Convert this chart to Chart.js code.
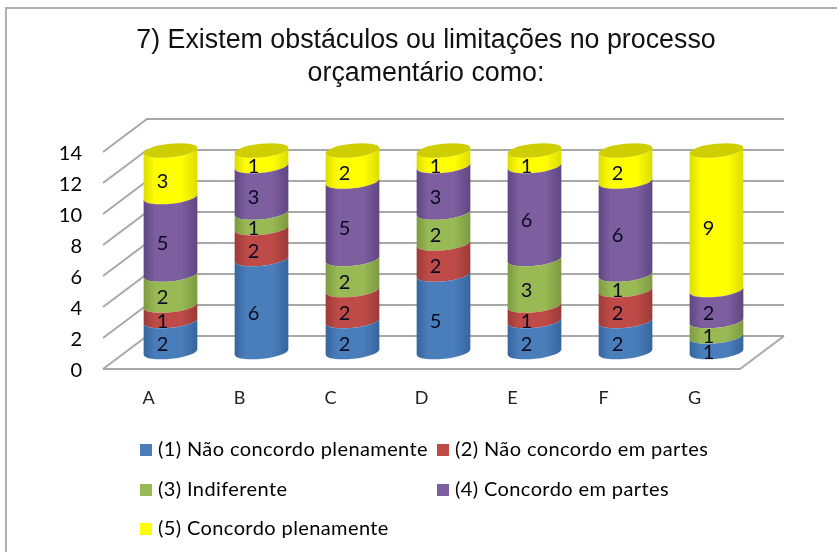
<!DOCTYPE html>
<html><head><meta charset="utf-8">
<style>html,body{margin:0;padding:0;background:#fff}#w{position:relative;width:837px;height:552px;overflow:hidden}
#f{position:absolute;left:5px;top:7px;width:900px;height:600px;border:2px solid #b0b0b0;box-sizing:border-box}
canvas{position:absolute;left:0;top:0}</style>
<script src="https://cdn.jsdelivr.net/npm/chart.js@4"></script>
</head><body><div id="w"><div id="f"></div><canvas id="c" width="837" height="552"></canvas></div>
<script>
const categories = ['A','B','C','D','E','F','G'];
const seriesNames = ['(1) Não concordo plenamente','(2) Não concordo em partes','(3) Indiferente','(4) Concordo em partes','(5) Concordo plenamente'];
const s1 = [2,6,2,5,2,2,1];
const s2 = [1,2,2,2,1,2,0];
const s3 = [2,1,2,2,3,1,1];
const s4 = [5,3,5,3,6,6,2];
const s5 = [3,1,2,1,1,2,9];
const seriesValues = [s1,s2,s3,s4,s5];
const colors = ['#4a7ebb','#be4b48','#98b954','#7d5fa0','#ffff00'];
const edgeColors = ['#36659e','#9c3a38','#7d9a40','#5f4681','#dcdc00'];
const titleLines = ['7) Existem obstáculos ou limitações no processo','orçamentário como:'];
const yTicks = {max:14, step:2};

const DX=44, DY=-33;            // wall depth
const BX=22, BY=-17;            // bars stand mid-depth
const RY=6.8, TILT=-6*Math.PI/180;
const LBL_FONT='20px Lato';

function ell(ctx,cx,cy,rx,ry,from,to,ccw){ctx.ellipse(cx,cy,rx,ry,TILT,from,to,ccw);}

const cyl3d = {
  id:'cyl3d',
  afterLayout(chart){ chart.titleBlock.left += 72; },
  beforeDatasetsDraw(chart){
    const {ctx,chartArea:a,scales:{y}}=chart;
    ctx.save();ctx.strokeStyle='#a8a8a8';ctx.lineWidth=2;ctx.lineCap='butt';
    for(let v=0;v<=yTicks.max;v+=yTicks.step){
      const p=y.getPixelForValue(v);
      ctx.beginPath();ctx.moveTo(a.left,p);ctx.lineTo(a.left+DX,p+DY);ctx.lineTo(a.right+DX,p+DY);ctx.stroke();
    }
    const p0=y.getPixelForValue(0);
    ctx.beginPath();ctx.moveTo(a.left,p0);ctx.lineTo(a.right,p0);ctx.lineTo(a.right+DX,p0+DY);ctx.stroke();
    ctx.restore();
  },
  beforeDatasetDraw(chart,args){
    const {ctx}=chart,i=args.index,meta=args.meta;
    const col=colors[i],ed=edgeColors[i];
    meta.data.forEach((el,k)=>{
      const vals=seriesValues[i];
      if(!vals[k])return;
      const cx=el.x+BX,rx=el.width/2,yb=el.base+BY,yt=el.y+BY;
      const g=ctx.createLinearGradient(cx-rx,0,cx+rx,0);
      g.addColorStop(0,ed);g.addColorStop(.22,col);g.addColorStop(.7,col);g.addColorStop(1,ed);
      const c=Math.cos(TILT)*rx,s=Math.sin(TILT)*rx;
      ctx.save();ctx.fillStyle=g;ctx.beginPath();
      ell(ctx,cx,yb,rx,RY,Math.PI,0,true);
      ctx.lineTo(cx+c,yt+s);
      ell(ctx,cx,yt,rx,RY,0,Math.PI,false);
      ctx.closePath();ctx.fill();
      if(i===seriesValues.length-1 || seriesValues.slice(i+1).every(a=>!a[k])){
        ctx.fillStyle='#cece00';ctx.beginPath();ell(ctx,cx,yt,rx,RY,0,Math.PI*2);ctx.fill();
      }
      ctx.restore();
    });
    return false;
  },
  afterDatasetsDraw(chart){
    const {ctx}=chart;
    ctx.save();ctx.font=LBL_FONT;ctx.fillStyle='#0a0a22';ctx.textAlign='center';ctx.textBaseline='middle';
    chart.data.datasets.forEach((d,i)=>{
      chart.getDatasetMeta(i).data.forEach((el,k)=>{
        if(!d.data[k])return;
        ctx.fillText(String(d.data[k]),el.x+BX-8,(el.y+el.base)/2+BY+8);
      });
    });
    ctx.restore();
  },
  afterDraw(chart){
    const {ctx}=chart;
    const slots=[[140,450],[437,450],[140,490],[437,490],[140,529]];
    ctx.save();ctx.font='20px Lato';ctx.textBaseline='middle';ctx.letterSpacing='0.4px';
    chart.data.datasets.forEach((d,i)=>{
      const [x,yy]=slots[i];
      ctx.fillStyle=d.backgroundColor;ctx.fillRect(x,yy-6,12,12);
      ctx.fillStyle='#000';ctx.fillText(d.label,x+18,yy);
    });
    ctx.restore();
  }
};

new Chart(document.getElementById('c'),{
  type:'bar',
  data:{labels:categories,datasets:seriesValues.map((v,i)=>({label:seriesNames[i],data:v,backgroundColor:colors[i]}))},
  options:{
    responsive:false,animation:false,
    layout:{padding:{left:40,right:97,top:24,bottom:143}},
    datasets:{bar:{categoryPercentage:1,barPercentage:54/91}},
    plugins:{
      legend:{display:false},tooltip:{enabled:false},
      title:{display:true,text:titleLines,color:'#111',font:{family:'"Liberation Sans"',size:26.8,weight:'normal',lineHeight:1.24},padding:{top:0,bottom:61.5}}
    },
    scales:{
      x:{stacked:true,grid:{display:false},border:{display:false},
         ticks:{color:'#222',font:{family:'Lato',size:18},padding:10,maxRotation:0},
         afterFit(s){s.height=40;}},
      y:{stacked:true,min:0,max:yTicks.max,grid:{display:false},border:{display:false},
         ticks:{stepSize:yTicks.step,color:'#000',font:{family:'Lato',size:20},padding:13,labelOffset:2},
         afterFit(s){s.width=63;}}
    }
  },
  plugins:[cyl3d]
});
</script></body></html>
